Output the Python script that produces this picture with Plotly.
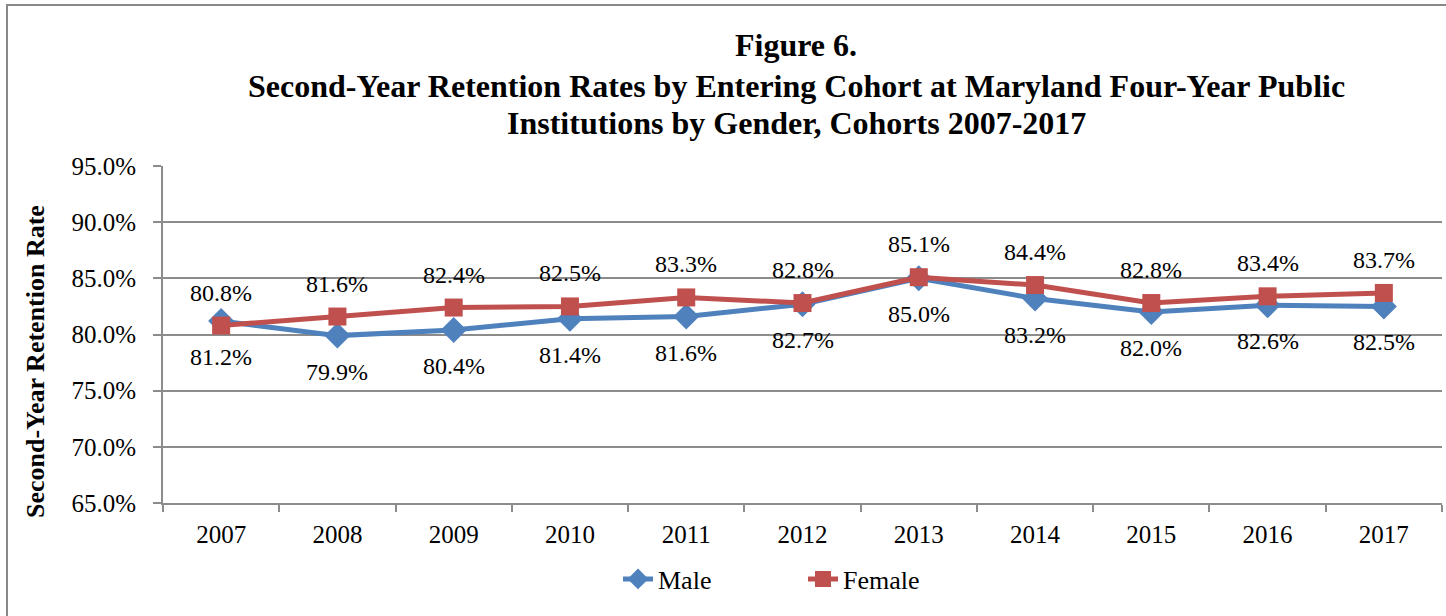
import plotly.graph_objects as go

years = ["2007", "2008", "2009", "2010", "2011", "2012", "2013", "2014", "2015", "2016", "2017"]
male = [81.2, 79.9, 80.4, 81.4, 81.6, 82.7, 85.0, 83.2, 82.0, 82.6, 82.5]
female = [80.8, 81.6, 82.4, 82.5, 83.3, 82.8, 85.1, 84.4, 82.8, 83.4, 83.7]

title_lines = [
    "Figure 6.",
    "Second-Year Retention Rates by Entering Cohort at Maryland Four-Year Public",
    "Institutions by Gender, Cohorts 2007-2017",
]
y_title = "Second-Year Retention Rate"

BLUE = "#4F81BD"
RED = "#C0504D"
GRID = "#8C8C8C"
FONT = "Liberation Serif"

W, H = 1446, 616
L, R, T, B = 163, 4, 166, 113
PW, PH = W - L - R, H - T - B

def px_x(x):
    return (x - L) / PW

def px_y(y):
    return (H - B - y) / PH

fig = go.Figure()
fig.add_trace(go.Scatter(
    x=years, y=male, name="Male", mode="lines+markers",
    line=dict(color=BLUE, width=5),
    marker=dict(symbol="diamond", size=20, color=BLUE),
))
fig.add_trace(go.Scatter(
    x=years, y=female, name="Female", mode="lines+markers",
    line=dict(color=RED, width=5),
    marker=dict(symbol="square", size=18, color=RED),
))

annotations = []
for i, v in enumerate(male):
    annotations.append(dict(x=i, y=v, xref="x", yref="y", text=f"{v:.1f}%",
                            showarrow=False, yshift=-36,
                            font=dict(family=FONT, size=24, color="#000")))
for i, v in enumerate(female):
    annotations.append(dict(x=i, y=v, xref="x", yref="y", text=f"{v:.1f}%",
                            showarrow=False, yshift=33,
                            font=dict(family=FONT, size=24, color="#000")))

for line, yc in zip(title_lines, [45, 86, 123]):
    annotations.append(dict(x=px_x(796), y=px_y(yc), xref="paper", yref="paper",
                            text=f"<b>{line}</b>", showarrow=False,
                            xanchor="center", yanchor="middle",
                            font=dict(family=FONT, size=32, color="#000")))

annotations.append(dict(x=px_x(35), y=px_y(362), xref="paper", yref="paper",
                        text=f"<b>{y_title}</b>", showarrow=False, textangle=-90,
                        xanchor="center", yanchor="middle",
                        font=dict(family=FONT, size=26, color="#000")))

fig.update_layout(
    width=W, height=H,
    margin=dict(l=L, r=R, t=T, b=B),
    paper_bgcolor="white", plot_bgcolor="white",
    font=dict(family=FONT, size=25, color="#000"),
    annotations=annotations,
    showlegend=True,
    legend=dict(orientation="h", x=px_x(618), y=px_y(579), xanchor="left",
                yanchor="middle", font=dict(family=FONT, size=26, color="#000"),
                entrywidth=140, entrywidthmode="pixels",
                bgcolor="rgba(0,0,0,0)"),
    shapes=[dict(type="rect", xref="paper", yref="paper",
                 x0=px_x(7), x1=px_x(1460), y0=px_y(630), y1=px_y(5),
                 line=dict(color="#888888", width=2), fillcolor="rgba(0,0,0,0)",
                 layer="below")],
)

fig.update_xaxes(
    type="category", range=[-0.5, 10.5],
    showline=True, linecolor=GRID, linewidth=2,
    ticks="outside", tickson="boundaries", ticklen=7, tickcolor=GRID, tickwidth=2,
    showgrid=False, ticklabelstandoff=8,
    tickfont=dict(family=FONT, size=25, color="#000"),
)
fig.update_yaxes(
    range=[65, 95], dtick=5, tick0=65, tickformat=".1f", ticksuffix="%",
    showline=True, linecolor=GRID, linewidth=2,
    ticks="outside", ticklen=8, tickcolor=GRID, tickwidth=2,
    showgrid=True, gridcolor=GRID, gridwidth=2,
    zeroline=False, ticklabelstandoff=12,
    tickfont=dict(family=FONT, size=25, color="#000"),
)

fig.write_html("out.html", config={"displayModeBar": False},
               post_script="document.body.style.margin='0';")
